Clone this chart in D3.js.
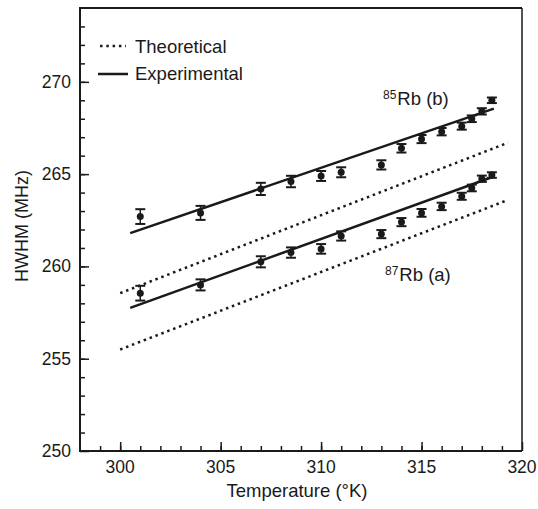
<!DOCTYPE html>
<html>
<head>
<meta charset="utf-8">
<script src="https://cdn.jsdelivr.net/npm/d3@7"></script>
<style>
  body { margin: 0; background: #fff; }
  text { font-family: "Liberation Sans", Arial, sans-serif; fill: #1a1a1a; }
</style>
</head>
<body>
<div id="chart"></div>
<script>
// measured points, 85Rb (b) and 87Rb (a)
var temps = [301, 304, 307, 308.5, 310, 311, 313, 314, 315, 316, 317, 317.5, 318, 318.5];
var hwhm85 = [262.7, 262.9, 264.2, 264.6, 264.9, 265.1, 265.5, 266.4, 266.9, 267.3, 267.6, 268.0, 268.4, 269.0];
var err85 = [0.4, 0.38, 0.33, 0.31, 0.27, 0.27, 0.25, 0.23, 0.22, 0.2, 0.19, 0.18, 0.17, 0.15];
var hwhm87 = [258.55, 259.0, 260.25, 260.75, 260.95, 261.65, 261.75, 262.4, 262.9, 263.25, 263.8, 264.25, 264.75, 264.95];
var err87 = [0.4, 0.3, 0.3, 0.28, 0.26, 0.25, 0.22, 0.22, 0.21, 0.2, 0.19, 0.18, 0.17, 0.15];

// fitted (experimental) and theoretical lines, end points
var fit85 = [[300.5, 261.8], [318.6, 268.55]];
var fit87 = [[300.5, 257.75], [318.6, 264.87]];
var theory85 = [[300, 258.55], [319.3, 266.7]];
var theory87 = [[300, 255.5], [319.3, 263.6]];

var xTicks = [300, 305, 310, 315, 320];
var yTicks = [250, 255, 260, 265, 270];
var legendItems = ["Theoretical", "Experimental"];

var width = 538, height = 509;
var mLeft = 80, mRight = 522, mTop = 8, mBottom = 451;

var svg = d3.select("#chart").append("svg")
    .attr("width", width)
    .attr("height", height);

var x = d3.scaleLinear().domain([298, 320]).range([mLeft, mRight]);
var y = d3.scaleLinear().domain([250, 274]).range([mBottom, mTop]);

var ink = "#1a1a1a";

function ticks(axis, pos, vals, size) {
  svg.append("g")
      .attr("transform", pos)
      .call(axis.tickValues(vals).tickSize(size).tickFormat(""))
      .call(function(g) { g.select(".domain").remove(); })
      .selectAll("line").attr("stroke", ink).attr("stroke-width", 1.5);
}
// minor + major ticks, pointing inside
ticks(d3.axisTop(x), "translate(0," + mBottom + ")", d3.range(299, 320), 5);
ticks(d3.axisRight(y), "translate(" + mLeft + ",0)", d3.range(251, 274), 5);
ticks(d3.axisTop(x), "translate(0," + mBottom + ")", xTicks, 9);
ticks(d3.axisRight(y), "translate(" + mLeft + ",0)", yTicks, 9);

// tick labels
svg.selectAll(".xlab").data(xTicks).enter().append("text")
    .attr("x", function(d) { return x(d); })
    .attr("y", 473)
    .attr("text-anchor", "middle")
    .attr("font-size", 17.5)
    .text(function(d) { return d; });
svg.selectAll(".ylab").data(yTicks).enter().append("text")
    .attr("x", 71)
    .attr("y", function(d) { return y(d) + 6; })
    .attr("text-anchor", "end")
    .attr("font-size", 17.5)
    .text(function(d) { return d; });

// frame
svg.append("path")
    .attr("d", "M" + mRight + "," + mTop + "V" + mBottom)
    .attr("stroke", ink)
    .attr("stroke-width", 1.5);
svg.append("path")
    .attr("d", "M" + mRight + "," + mTop + "H" + mLeft + "V" + mBottom + "H" + mRight)
    .attr("fill", "none")
    .attr("stroke", ink)
    .attr("stroke-width", 2);

// axis titles
svg.append("text")
    .attr("x", 297).attr("y", 497)
    .attr("text-anchor", "middle")
    .attr("font-size", 18.5)
    .text("Temperature (\u00B0K)");
svg.append("text")
    .attr("transform", "translate(28,226) rotate(-90)")
    .attr("text-anchor", "middle")
    .attr("font-size", 18)
    .text("HWHM (MHz)");

var line = d3.line()
    .x(function(d) { return x(d[0]); })
    .y(function(d) { return y(d[1]); });

[theory85, theory87].forEach(function(d) {
  svg.append("path").attr("d", line(d))
      .attr("fill", "none").attr("stroke", ink)
      .attr("stroke-width", 2.5).attr("stroke-dasharray", "2.5,3.8");
});
[fit85, fit87].forEach(function(d) {
  svg.append("path").attr("d", line(d))
      .attr("fill", "none").attr("stroke", ink)
      .attr("stroke-width", 2.5);
});

function drawPoints(vals, errs) {
  var g = svg.append("g");
  var pts = temps.map(function(t, i) { return {t: t, v: vals[i], e: errs[i]}; });
  var p = g.selectAll("g").data(pts).enter().append("g");
  p.append("line")
      .attr("x1", function(d) { return x(d.t); })
      .attr("x2", function(d) { return x(d.t); })
      .attr("y1", function(d) { return y(d.v - d.e); })
      .attr("y2", function(d) { return y(d.v + d.e); })
      .attr("stroke", ink).attr("stroke-width", 1.5);
  [-1, 1].forEach(function(s) {
    p.append("line")
        .attr("x1", function(d) { return x(d.t) - 5; })
        .attr("x2", function(d) { return x(d.t) + 5; })
        .attr("y1", function(d) { return y(d.v + s * d.e); })
        .attr("y2", function(d) { return y(d.v + s * d.e); })
        .attr("stroke", ink).attr("stroke-width", 2);
  });
  p.append("circle")
      .attr("cx", function(d) { return x(d.t); })
      .attr("cy", function(d) { return y(d.v); })
      .attr("r", 3.5)
      .attr("fill", ink);
}
drawPoints(hwhm85, err85);
drawPoints(hwhm87, err87);

// series labels
var lab85 = svg.append("text").attr("x", 383).attr("y", 104.5).attr("font-size", 18.5);
lab85.append("tspan").attr("font-size", 12).attr("dy", -6).text("85");
lab85.append("tspan").attr("dy", 6).attr("dx", 1).text("Rb (b)");
var lab87 = svg.append("text").attr("x", 385).attr("y", 281).attr("font-size", 18.5);
lab87.append("tspan").attr("font-size", 12).attr("dy", -6).text("87");
lab87.append("tspan").attr("dy", 6).attr("dx", 1).text("Rb (a)");

// legend
var leg = svg.append("g");
leg.append("line").attr("x1", 100).attr("x2", 126).attr("y1", 46).attr("y2", 46)
    .attr("stroke", ink).attr("stroke-width", 2.5).attr("stroke-dasharray", "2.5,3.8");
leg.append("line").attr("x1", 98).attr("x2", 128).attr("y1", 74).attr("y2", 74)
    .attr("stroke", ink).attr("stroke-width", 2.5);
leg.selectAll(".legtext").data(legendItems).enter().append("text")
    .attr("x", 135)
    .attr("y", function(d, i) { return 53 + i * 27; })
    .attr("font-size", 18.5)
    .text(function(d) { return d; });
</script>
</body>
</html>
